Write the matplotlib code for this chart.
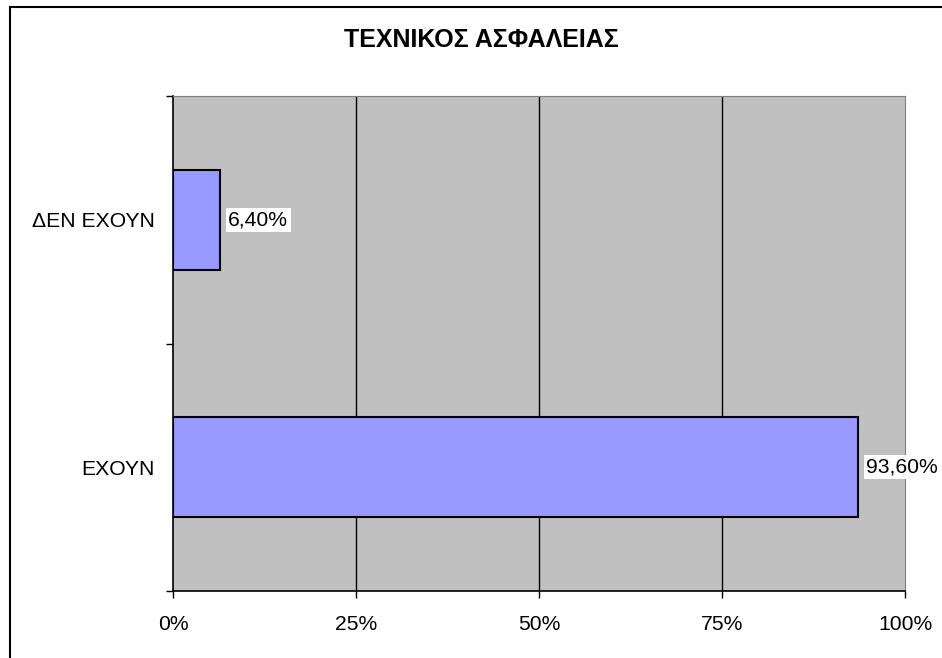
import matplotlib
matplotlib.use("Agg")
import matplotlib.pyplot as plt
from matplotlib.lines import Line2D

plt.rcParams['font.family'] = ['Liberation Sans', 'DejaVu Sans']

title = "ΤΕΧΝΙΚΟΣ ΑΣΦΑΛΕΙΑΣ"
categories = ["ΕΧΟΥΝ", "ΔΕΝ ΕΧΟΥΝ"]
values = [93.60, 6.40]
xticks = [0, 25, 50, 75, 100]
xtick_labels = ["0%", "25%", "50%", "75%", "100%"]

W, H = 942, 658
fig = plt.figure(figsize=(W / 100, H / 100), dpi=100)
fig.patch.set_facecolor("white")

ax = fig.add_axes([173 / W, 1 - 591 / H, (905 - 173) / W, (591 - 96) / H])
ax.set_facecolor("#C0C0C0")

ypos = list(range(len(categories)))
ax.barh(ypos, values, height=0.404, color="#9999FF", edgecolor="black",
        linewidth=1.5, zorder=3)

for y, v in zip(ypos, values):
    ax.annotate(f"{v:.2f}".replace(".", ",") + "%", xy=(v, y),
                xytext=(6, 0), textcoords="offset points",
                ha="left", va="center", fontsize=15.2, zorder=4,
                bbox=dict(boxstyle="square,pad=0.12", facecolor="white",
                          edgecolor="none"))

ax.set_xlim(0, 100)
ax.set_ylim(-0.5, len(categories) - 0.5)
ax.set_xticks(xticks)
ax.set_xticklabels(xtick_labels, fontsize=15.2)
ax.tick_params(axis="x", direction="out", length=5, width=1, color="black",
               pad=12)
ax.set_yticks(ypos)
ax.set_yticklabels(categories, fontsize=15.2)
ax.tick_params(axis="y", which="major", length=0, pad=13)
ax.set_yticks([-0.5, 0.5, 1.5], minor=True)
ax.tick_params(axis="y", which="minor", direction="out", length=5, width=1,
               color="black")

for x in xticks[1:-1]:
    ax.axvline(x, color="black", linewidth=1, zorder=1)

ax.spines["left"].set_color("black")
ax.spines["bottom"].set_color("black")
ax.spines["left"].set_linewidth(1.2)
ax.spines["bottom"].set_linewidth(1.2)
ax.spines["top"].set_color("#808080")
ax.spines["right"].set_color("#808080")

fig.text(481 / W, 1 - 40 / H, title, ha="center", va="center",
         fontsize=18, fontweight="bold")

# figure frame (left and top edges)
fig.add_artist(Line2D([10 / W, 10 / W], [0, 1 - 6.5 / H], transform=fig.transFigure,
                      color="black", linewidth=1.5))
fig.add_artist(Line2D([10 / W, 1], [1 - 6.5 / H, 1 - 6.5 / H], transform=fig.transFigure,
                      color="black", linewidth=1.5))

fig.savefig("out.png", dpi=100)
